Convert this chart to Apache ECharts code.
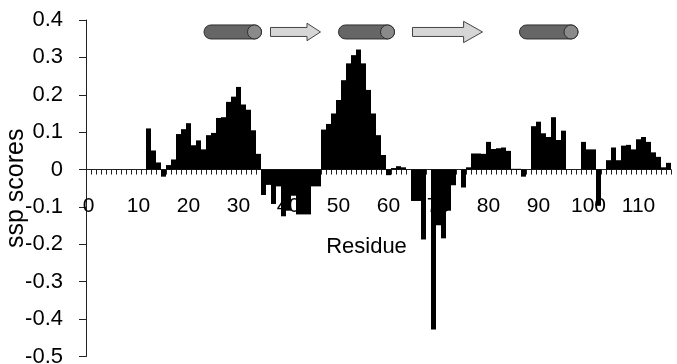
<!DOCTYPE html>
<html>
<head>
<meta charset="utf-8">
<script src="https://cdn.jsdelivr.net/npm/echarts@6/dist/echarts.min.js"></script>
<style>html,body{margin:0;padding:0;background:#fff}#c{width:677px;height:364px}</style>
</head>
<body>
<div id="c"></div>
<script>
// Residue numbers (categories)
const residues = [0,1,2,3,4,5,6,7,8,9,10,11,12,13,14,15,16,17,18,19,20,21,22,23,24,25,26,27,28,29,30,
31,32,33,34,35,36,37,38,39,40,41,42,43,44,45,46,47,48,49,50,51,52,53,54,55,56,57,58,59,60,
61,62,63,64,65,66,67,68,69,70,71,72,73,74,75,76,77,78,79,80,81,82,83,84,85,86,87,88,89,90,
91,92,93,94,95,96,97,98,99,100,101,102,103,104,105,106,107,108,109,110,111,112,113,114,115,116];

// SSP score per residue
const sspScores = [
  null,null,null,null,null,null,null,null,null,null,null,null,
  0.110,0.051,0.019,-0.019,0.012,0.027,0.095,0.108,0.124,            // 12-20
  0.065,0.078,0.054,0.092,0.098,0.138,0.140,0.181,0.195,0.221,       // 21-30
  0.174,0.160,0.105,0.042,-0.068,-0.041,-0.092,-0.045,-0.125,-0.110, // 31-40
  -0.070,-0.120,-0.120,-0.120,-0.045,-0.045,0.107,0.122,0.150,0.186, // 41-50
  0.239,0.284,0.306,0.321,0.284,0.213,0.150,0.092,0.039,-0.015,      // 51-60
  0.004,0.009,0.006,0,-0.084,-0.084,-0.187,0,-0.428,-0.149,          // 61-70
  -0.184,-0.110,-0.042,0,-0.048,0.006,0.043,0.043,0.042,0.074,       // 71-80
  0.055,0.057,0.059,0.050,0.002,0.002,-0.019,0,0.116,0.128,          // 81-90
  0.097,0.087,0.140,0.079,0.104,0,0,0,0.074,0.054,                   // 91-100
  0.054,-0.097,0,0.025,0.059,0.025,0.064,0.066,0.054,0.081,          // 101-110
  0.087,0.074,0.046,0.034,0.006,0.018                                // 111-116
];

// Secondary structure elements: [start residue, end residue]
const helixRanges  = [[23.1, 34.6], [50.0, 61.2], [86.2, 97.9]];
const strandRanges = [[36.4, 46.4], [64.8, 78.8]];

// y-axis tick values
const yMin = -0.5, yMax = 0.4, yStep = 0.1;

const FONT = "'Liberation Sans', Arial, sans-serif";
const cartoonY = 0.368;

const chart = echarts.init(document.getElementById('c'), null, {renderer: 'canvas'});

function helixItem(params, api) {
  const p0 = api.coord([api.value(0), cartoonY]);
  const p1 = api.coord([api.value(1), cartoonY]);
  const r = 7;
  const x0 = p0[0], x1 = p1[0], cy = p0[1];
  return {
    type: 'group',
    children: [
      {type: 'rect', shape: {x: x0, y: cy - r, width: x1 - x0, height: 2 * r, r: r},
       style: {fill: '#666666', stroke: '#2e2e2e', lineWidth: 1}},
      {type: 'circle', shape: {cx: x1 - r, cy: cy, r: r},
       style: {fill: '#8a8a8a', stroke: '#2e2e2e', lineWidth: 1}}
    ]
  };
}

function strandItem(params, api) {
  const p0 = api.coord([api.value(0), cartoonY]);
  const p1 = api.coord([api.value(1), cartoonY]);
  const x0 = p0[0], x1 = p1[0], cy = p0[1];
  const len = x1 - x0;
  const hl = 0.27 * len, hh = 4 + 0.095 * len, sh = 4.5;
  return {
    type: 'polygon',
    shape: {points: [
      [x0, cy - sh], [x1 - hl, cy - sh], [x1 - hl, cy - hh], [x1, cy],
      [x1 - hl, cy + hh], [x1 - hl, cy + sh], [x0, cy + sh]
    ]},
    style: {fill: '#d6d6d6', stroke: '#444', lineWidth: 1}
  };
}

const option = {
  animation: false,
  backgroundColor: '#fff',
  grid: {left: 86, right: 6, top: 20, bottom: 7.5, containLabel: false, outerBoundsMode: 'none'},
  xAxis: [
    {
      type: 'category',
      data: residues,
      boundaryGap: true,
      position: 'bottom',
      offset: 0,
      name: 'Residue',
      nameLocation: 'middle',
      nameGap: 66,
      nameMoveOverlap: false,
      nameTextStyle: {fontFamily: FONT, fontSize: 22, color: '#000', padding: [0, 24, 0, 0]},
      axisLine: {show: true, onZero: false, lineStyle: {color: '#222', width: 1}},
      axisTick: {show: true, interval: 0, length: 5, inside: false, lineStyle: {color: '#222'}},
      axisLabel: {interval: 9, margin: 26, fontFamily: FONT, fontSize: 21, color: '#000'},
      splitLine: {show: false}
    },
    {
      type: 'value', show: false, min: -0.5, max: 116.5
    }
  ],
  yAxis: {
    type: 'value',
    min: yMin, max: yMax, interval: yStep,
    name: 'ssp scores',
    nameLocation: 'middle',
    nameGap: 57,
    nameMoveOverlap: false,
    nameTextStyle: {fontFamily: FONT, fontSize: 25, color: '#000'},
    axisLine: {show: true, onZero: false, lineStyle: {color: '#222', width: 1}},
    axisTick: {show: true, length: 7, inside: false, lineStyle: {color: '#222'}},
    axisLabel: {
      margin: 23, fontFamily: FONT, fontSize: 22, color: '#000',
      formatter: v => Math.abs(v) < 1e-9 ? '0' : v.toFixed(1)
    },
    splitLine: {show: false}
  },
  series: [
    {
      type: 'bar',
      xAxisIndex: 0, yAxisIndex: 0,
      data: sspScores,
      barCategoryGap: '0%',
      barGap: '0%',
      itemStyle: {color: '#000'},
      emphasis: {disabled: true}
    },
    {
      type: 'custom',
      xAxisIndex: 1, yAxisIndex: 0,
      data: helixRanges,
      renderItem: helixItem,
      clip: false,
      z: 5
    },
    {
      type: 'custom',
      xAxisIndex: 1, yAxisIndex: 0,
      data: strandRanges,
      renderItem: strandItem,
      clip: false,
      z: 5
    }
  ]
};
chart.setOption(option);

// Move the category axis (line, ticks, labels, name) up onto y = 0 using the library's own scale
const zeroY = chart.convertToPixel({yAxisIndex: 0}, 0);
const bottomY = chart.convertToPixel({yAxisIndex: 0}, yMin);
chart.setOption({xAxis: [{offset: zeroY - bottomY}, {}]});
</script>
</body>
</html>
